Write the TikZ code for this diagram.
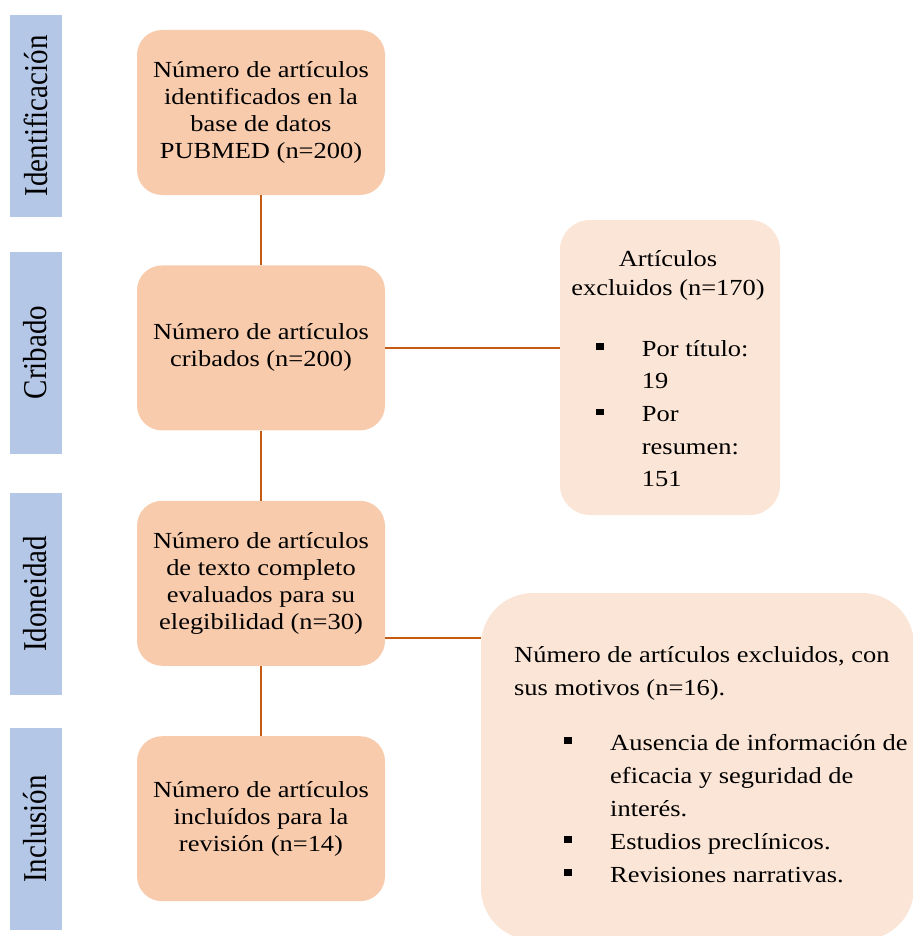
\documentclass[tikz,border=0pt]{standalone}
\usepackage{fontspec}
\usepackage{graphicx}
\setmainfont{Liberation Serif}[FakeStretch=1.15]
\newfontfamily\barfont{Liberation Serif}
\usetikzlibrary{positioning}
\definecolor{stageblue}{HTML}{B4C7E7}
\definecolor{boxorange}{HTML}{F8CBAD}
\definecolor{exclpeach}{HTML}{FBE5D6}
\definecolor{linkbrown}{HTML}{C55A11}
\newcommand{\bulsq}{\rule[6.5pt]{8pt}{6.5pt}}
\tikzstyle{stage}=[rectangle, fill=stageblue, rotate=90, minimum width=202pt, minimum height=52pt,
                   inner sep=0pt, font=\barfont\fontsize{29}{29}\selectfont]
\tikzstyle{flowbox}=[rectangle, rounded corners=25pt, fill=boxorange, minimum width=248pt,
                     minimum height=165pt, align=center, inner sep=0pt, font=\fontsize{23}{27}\selectfont]
\tikzstyle{exclbox}=[rectangle, fill=exclpeach, inner sep=0pt]
\tikzstyle{excltext}=[inner sep=0pt, font=\fontsize{23}{33}\selectfont]
\tikzstyle{link}=[draw=linkbrown, line width=1.6pt]

\begin{document}
\begin{tikzpicture}[x=1pt, y=-1pt]
  \useasboundingbox (0,0) rectangle (912,936);

  % stages
  \node[stage] (s1) at (35.5,116) {\scalebox{1}[1.15]{Identificación}};
  \node[stage] (s2) at (35.5,352.5) {\scalebox{1}[1.15]{Cribado}};
  \node[stage] (s3) at (35.5,594) {\scalebox{1}[1.15]{Idoneidad}};
  \node[stage] (s4) at (35.5,829) {\scalebox{1}[1.15]{Inclusión}};

  % main flow
  \node[flowbox] (b1) at (261,112.5) {Número de artículos\\identificados en la\\base de datos\\PUBMED (n=200)};
  \node[flowbox, below=70pt of b1] (b2) {Número de artículos\\cribados (n=200)};
  \node[flowbox, below=70pt of b2] (b3) {Número de artículos\\de texto completo\\evaluados para su\\elegibilidad (n=30)};
  \node[flowbox, below=70pt of b3] (b4) {Número de artículos\\incluídos para la\\revisión (n=14)};

  % excluded
  \node[exclbox, rounded corners=30pt, minimum width=220pt, minimum height=295pt] (e1) at (670,367.5) {};
  \node[excltext, anchor=north, align=center, font=\fontsize{23}{29}\selectfont] (e1head) at (668,244.7)
       {\rule{0pt}{22pt}Artículos\\excluidos (n=170)};
  \node[excltext, anchor=north west, font=\fontsize{23}{32.7}\selectfont] (e1list) at (596,333.1)
       {\begin{tabular}{@{}p{45.7pt}@{}l@{}}
        \bulsq & Por título:\\
               & 19\\
        \bulsq & Por\\
               & resumen:\\
               & 151
        \end{tabular}};

  \node[exclbox, rounded corners=52pt, minimum width=433pt, minimum height=347pt] (e2) at (697.5,766.5) {};
  \node[excltext, anchor=north west, align=left] (e2head) at (514,640)
       {\rule{0pt}{22pt}Número de artículos excluidos, con\\sus motivos (n=16).};
  \node[excltext, anchor=north west] (e2list) at (564,726.9)
       {\begin{tabular}{@{}p{46pt}@{}l@{}}
        \bulsq & Ausencia de información de\\
               & eficacia y seguridad de\\
               & interés.\\
        \bulsq & Estudios preclínicos.\\
        \bulsq & Revisiones narrativas.
        \end{tabular}};

  % links
  \draw[link] (b1) -- (b2);
  \draw[link] (b2) -- (b3);
  \draw[link] (b3) -- (b4);
  \draw[link] (b2.east) -- (b2.east -| e1.west);
  \coordinate (t3) at ([yshift=-54.5pt]b3.east);
  \draw[link] (t3) -- (t3 -| e2.west);

\end{tikzpicture}
\end{document}
